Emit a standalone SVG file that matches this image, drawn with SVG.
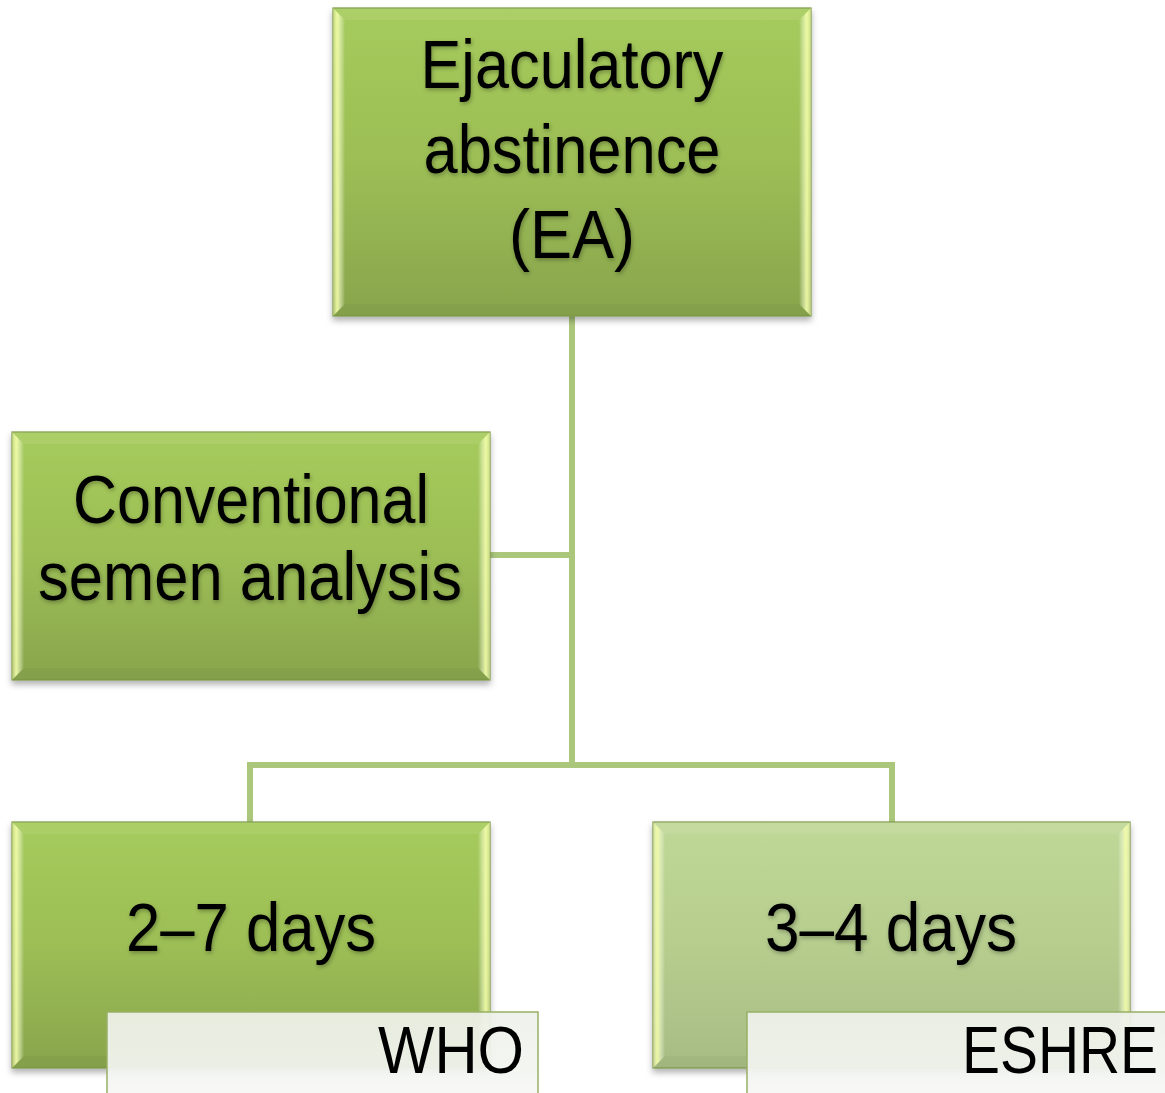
<svg xmlns="http://www.w3.org/2000/svg" width="1165" height="1093" viewBox="0 0 1165 1093">
<defs>
<linearGradient id="face" x1="0" y1="0" x2="0" y2="1">
<stop offset="0" stop-color="#a6cb5c"/>
<stop offset="0.5" stop-color="#9cbe55"/>
<stop offset="1" stop-color="#89a54d"/>
</linearGradient>
<linearGradient id="faceL" x1="0" y1="0" x2="0" y2="1">
<stop offset="0" stop-color="#bfd797"/>
<stop offset="0.5" stop-color="#b6cd8e"/>
<stop offset="1" stop-color="#a7bc84"/>
</linearGradient>
<linearGradient id="bevL" x1="0" y1="0" x2="1" y2="0">
<stop offset="0" stop-color="#ffffc0" stop-opacity="0.3"/>
<stop offset="0.35" stop-color="#f4ffa8" stop-opacity="0.9"/>
<stop offset="1" stop-color="#ffffff" stop-opacity="0"/>
</linearGradient>
<linearGradient id="bevR" x1="0" y1="0" x2="1" y2="0">
<stop offset="0" stop-color="#ffffff" stop-opacity="0"/>
<stop offset="0.65" stop-color="#f4ffa8" stop-opacity="0.9"/>
<stop offset="1" stop-color="#ffffc0" stop-opacity="0.4"/>
</linearGradient>
<linearGradient id="lab" x1="0" y1="0" x2="0" y2="1">
<stop offset="0" stop-color="#eef1ea"/>
<stop offset="0.6" stop-color="#f3f5f1"/>
<stop offset="1" stop-color="#fbfbfb"/>
</linearGradient>
<filter id="sh" x="-5%" y="-5%" width="110%" height="115%">
<feDropShadow dx="0" dy="4" stdDeviation="3" flood-color="#000" flood-opacity="0.3"/>
</filter>
<filter id="tsh" x="-5%" y="-10%" width="110%" height="130%">
<feDropShadow dx="1" dy="2" stdDeviation="2" flood-color="#000" flood-opacity="0.3"/>
</filter>
</defs>
<style>
.edge{fill:none;stroke:#abc77c;stroke-width:6}
.frame{stroke:#7d9948;stroke-width:1.2}
.bt{fill:#ffffff;fill-opacity:0.08}
.bb{fill:#000000;fill-opacity:0.03}
.bl{fill:url(#bevL)}
.br{fill:url(#bevR)}
.t{font-family:"Liberation Sans",Arial,sans-serif;font-size:68px;fill:#000;text-anchor:middle}
.lbl{fill:url(#lab);fill-opacity:0.93;stroke:#98b066;stroke-width:1.5}
.lt{font-family:"Liberation Sans",Arial,sans-serif;font-size:66px;fill:#000;text-anchor:end}
</style>

<g id="connectors">
<path class="edge" d="M572 316 V765"/>
<path class="edge" d="M490 555 H572"/>
<path class="edge" d="M250 822 V765 H892 V822"/>
</g>

<g id="node-ea">
<rect class="frame" x="333" y="8" width="478" height="308" fill="url(#face)" filter="url(#sh)"/>
<polygon class="bt" points="333,8 811,8 799,20 345,20"/>
<polygon class="bb" points="333,316 811,316 799,304 345,304"/>
<polygon class="bl" points="333,8 345,20 345,304 333,316"/>
<polygon class="br" points="811,8 799,20 799,304 811,316"/>
<g filter="url(#tsh)">
<text class="t" x="572" y="88" textLength="303" lengthAdjust="spacingAndGlyphs">Ejaculatory</text>
<text class="t" x="572" y="173" textLength="297" lengthAdjust="spacingAndGlyphs">abstinence</text>
<text class="t" x="572" y="258" textLength="126" lengthAdjust="spacingAndGlyphs">(EA)</text>
</g>
</g>

<g id="node-csa">
<rect class="frame" x="12" y="432" width="478" height="248" fill="url(#face)" filter="url(#sh)"/>
<polygon class="bt" points="12,432 490,432 478,444 24,444"/>
<polygon class="bb" points="12,680 490,680 478,668 24,668"/>
<polygon class="bl" points="12,432 24,444 24,668 12,680"/>
<polygon class="br" points="490,432 478,444 478,668 490,680"/>
<g filter="url(#tsh)">
<text class="t" x="251" y="523" textLength="356" lengthAdjust="spacingAndGlyphs">Conventional</text>
<text class="t" x="250" y="600" textLength="424" lengthAdjust="spacingAndGlyphs">semen analysis</text>
</g>
</g>

<g id="node-who">
<rect class="frame" x="12" y="822" width="478" height="246" fill="url(#face)" filter="url(#sh)"/>
<polygon class="bt" points="12,822 490,822 478,834 24,834"/>
<polygon class="bb" points="12,1068 490,1068 478,1056 24,1056"/>
<polygon class="bl" points="12,822 24,834 24,1056 12,1068"/>
<polygon class="br" points="490,822 478,834 478,1056 490,1068"/>
<text class="t" x="251" y="951" textLength="250" lengthAdjust="spacingAndGlyphs" filter="url(#tsh)">2–7 days</text>
</g>

<g id="node-eshre">
<rect class="frame" x="653" y="822" width="477" height="246" fill="url(#faceL)" filter="url(#sh)"/>
<polygon class="bt" points="653,822 1130,822 1118,834 665,834"/>
<polygon class="bb" points="653,1068 1130,1068 1118,1056 665,1056"/>
<polygon class="bl" points="653,822 665,834 665,1056 653,1068"/>
<polygon class="br" points="1130,822 1118,834 1118,1056 1130,1068"/>
<text class="t" x="891" y="951" textLength="252" lengthAdjust="spacingAndGlyphs" filter="url(#tsh)">3–4 days</text>
</g>

<g id="label-who">
<rect class="lbl" x="107" y="1012" width="431" height="100"/>
<text class="lt" x="524" y="1073" textLength="146" lengthAdjust="spacingAndGlyphs">WHO</text>
</g>

<g id="label-eshre">
<rect class="lbl" x="747" y="1012" width="440" height="100"/>
<text class="lt" x="1158" y="1073" textLength="196" lengthAdjust="spacingAndGlyphs">ESHRE</text>
</g>
</svg>
